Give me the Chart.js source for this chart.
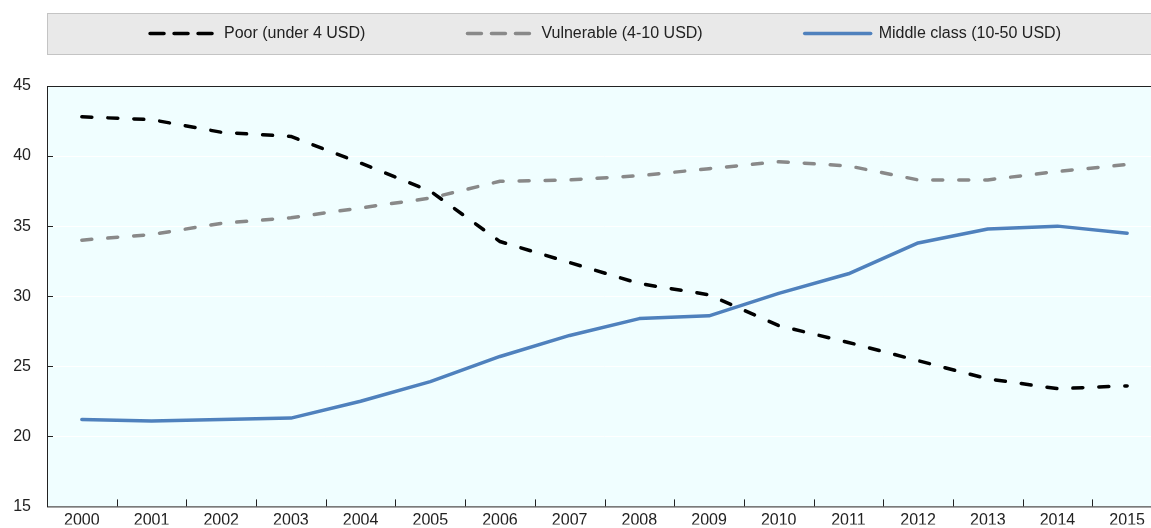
<!DOCTYPE html>
<html lang="en">
<head>
  <meta charset="UTF-8">
  <title>Income classes</title>
  <script src="https://cdn.jsdelivr.net/npm/chart.js"></script>
  <style>
    html, body {
      margin: 0;
      padding: 0;
      background: #ffffff;
      overflow: hidden;
    }
    #classChart {
      position: absolute;
      left: 0;
      top: 0;
    }
  </style>
</head>
<body>
  <canvas id="classChart" width="1162" height="532"></canvas>

<script>
  const years = ["2000", "2001", "2002", "2003", "2004", "2005", "2006", "2007",
                 "2008", "2009", "2010", "2011", "2012", "2013", "2014", "2015"];
  const poor = [42.8, 42.6, 41.7, 41.4, 39.5, 37.5, 33.9, 32.4,
                30.9, 30.1, 27.9, 26.7, 25.4, 24.1, 23.4, 23.6];
  const vulnerable = [34.0, 34.4, 35.2, 35.6, 36.3, 37.0, 38.2, 38.3,
                      38.6, 39.1, 39.6, 39.3, 38.3, 38.3, 38.9, 39.4];
  const middleClass = [21.2, 21.1, 21.2, 21.3, 22.5, 23.9, 25.7, 27.2,
                       28.4, 28.6, 30.2, 31.6, 33.8, 34.8, 35.0, 34.5];
  const seriesNames = ["Poor (under 4 USD)", "Vulnerable (4-10 USD)", "Middle class (10-50 USD)"];
  const yMin = 15, yMax = 45, yStep = 5;

  const FONT = '"Liberation Sans", Arial, sans-serif';
  const TEXT = '#222222';

  // plot background, frame and inward tick marks
  const framePlugin = {
    id: 'frame',
    beforeDraw(chart) {
      const { ctx, chartArea: a } = chart;
      ctx.save();
      ctx.fillStyle = '#F0FEFF';
      ctx.fillRect(a.left, a.top, a.right - a.left, a.bottom - a.top);
      ctx.restore();
    },
    beforeDatasetsDraw(chart) {
      const { ctx, chartArea: a, scales } = chart;
      ctx.save();
      ctx.strokeStyle = '#222222';
      ctx.lineWidth = 1;
      ctx.strokeRect(a.left + 0.5, a.top + 0.5, a.right - a.left, a.bottom - a.top);
      ctx.beginPath();
      scales.y.ticks.forEach(t => {
        if (t.value <= yMin || t.value >= yMax) return;
        const y = Math.round(scales.y.getPixelForValue(t.value)) + 0.5;
        ctx.moveTo(a.left, y);
        ctx.lineTo(a.left + 6, y);
      });
      const half = (scales.x.getPixelForValue(1) - scales.x.getPixelForValue(0)) / 2;
      for (let i = 0; i < years.length - 1; i++) {
        const x = Math.round(scales.x.getPixelForValue(i) + half) + 0.5;
        ctx.moveTo(x, a.bottom);
        ctx.lineTo(x, a.bottom - 7);
      }
      ctx.stroke();
      ctx.restore();
    }
  };

  // grey legend band above the plot
  const legendBand = {
    id: 'legendBand',
    afterDraw(chart) {
      const { ctx, chartArea: a } = chart;
      const top = 13, h = 41, sample = 70, gap = 100;
      ctx.save();
      ctx.fillStyle = '#E9E9E9';
      ctx.strokeStyle = '#C4C4C4';
      ctx.fillRect(a.left, top, chart.width, h);
      ctx.strokeRect(a.left + 0.5, top + 0.5, chart.width, h);
      ctx.font = '16px ' + FONT;
      const sets = chart.data.datasets;
      const widths = sets.map(d => sample + 6 + ctx.measureText(d.label).width);
      const total = widths.reduce((s, w) => s + w, 0) + gap * (sets.length - 1);
      let x = (a.left + chart.width) / 2 - total / 2;
      const cy = top + h / 2;
      sets.forEach((d, i) => {
        ctx.beginPath();
        ctx.strokeStyle = d.borderColor;
        ctx.lineWidth = d.borderWidth;
        ctx.lineCap = d.borderCapStyle;
        ctx.setLineDash(d.borderDash.length ? [14, 10] : []);
        ctx.moveTo(x + 2, cy);
        ctx.lineTo(x + sample - 2, cy);
        ctx.stroke();
        ctx.setLineDash([]);
        ctx.fillStyle = TEXT;
        ctx.textBaseline = 'middle';
        ctx.fillText(d.label, x + sample + 6, cy);
        x += widths[i] + gap;
      });
      ctx.restore();
    }
  };

  function line(label, data, color, dashed) {
    return {
      label: label,
      data: data,
      borderColor: color,
      backgroundColor: color,
      borderWidth: 3.5,
      borderDash: dashed ? [10, 16] : [],
      borderCapStyle: 'round',
      borderJoinStyle: 'round',
      pointRadius: 0,
      tension: 0,
      fill: false
    };
  }

  const ctx = document.getElementById("classChart").getContext("2d");
  new Chart(ctx, {
    type: 'line',
    data: {
      labels: years,
      datasets: [
        line(seriesNames[0], poor, '#000000', true),
        line(seriesNames[1], vulnerable, '#898989', true),
        line(seriesNames[2], middleClass, '#4F81BD', false)
      ]
    },
    options: {
      responsive: false,
      animation: false,
      layout: { padding: { top: 86, left: 0, right: 0, bottom: 0 } },
      plugins: {
        legend: { display: false },
        tooltip: { enabled: false }
      },
      scales: {
        x: {
          offset: true,
          grid: { display: false, drawTicks: false },
          border: { display: false },
          ticks: { color: TEXT, font: { family: FONT, size: 16 }, padding: 5, maxRotation: 0, autoSkip: false },
          afterFit(scale) { scale.height = 18; }
        },
        y: {
          min: yMin,
          max: yMax,
          grid: { color: '#FFFFFF', lineWidth: 1, drawTicks: false },
          border: { display: false },
          ticks: { stepSize: yStep, color: TEXT, font: { family: FONT, size: 16 }, padding: 16 },
          afterFit(scale) { scale.width = 47; }
        }
      }
    },
    plugins: [framePlugin, legendBand]
  });
</script>
</body>
</html>
